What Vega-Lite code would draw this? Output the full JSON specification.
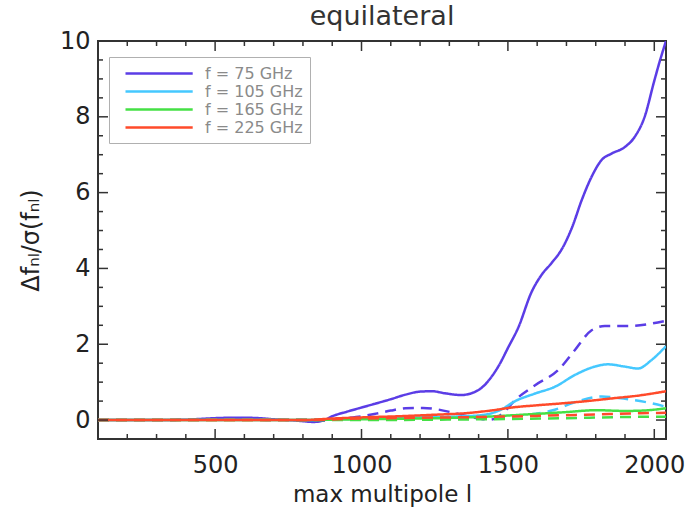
{
  "$schema": "https://vega.github.io/schema/vega-lite/v6.json",
  "autosize": {"type": "none"},
  "padding": {"left": 98, "top": 41, "right": 22, "bottom": 72},
  "width": 568,
  "height": 398,
  "background": "white",
  "title": {"text": "equilateral", "font": "DejaVu Sans", "fontSize": 27, "fontWeight": "normal", "color": "#333333", "offset": -2},
  "config": {
    "view": {"stroke": "#333333", "strokeWidth": 2},
    "axis": {"grid": false, "domain": false, "ticks": false,
      "labelFont": "DejaVu Sans", "labelFontSize": 24, "labelColor": "#222222",
      "titleFont": "DejaVu Sans", "titleFontSize": 22, "titleFontWeight": "normal", "titleColor": "#222222"},
    "legend": {"orient": "none", "legendX": 11, "legendY": 16, "fillColor": "white", "strokeColor": "#b0b0b0", "strokeWidth": 1,
      "padding": 7, "symbolType": "M0,0H8.4", "symbolSize": 256, "symbolStrokeWidth": 2.5, "labelFont": "DejaVu Sans",
      "labelFontSize": 16, "labelColor": "#8a8a8a", "labelOffset": 70, "rowPadding": -0.5, "title": null}
  },
  "datasets": {
    "xmaj": [{"t":500},{"t":1000},{"t":1500},{"t":2000}],
    "xmin": [{"t":200},{"t":300},{"t":400},{"t":600},{"t":700},{"t":800},{"t":900},{"t":1100},{"t":1200},{"t":1300},{"t":1400},{"t":1600},{"t":1700},{"t":1800},{"t":1900}],
    "ymaj": [{"t":0},{"t":2},{"t":4},{"t":6},{"t":8}],
    "ymin": [{"t":0.5},{"t":1},{"t":1.5},{"t":2.5},{"t":3},{"t":3.5},{"t":4.5},{"t":5},{"t":5.5},{"t":6.5},{"t":7},{"t":7.5},{"t":8.5},{"t":9},{"t":9.5}]
  },
  "data": {"values": [
    {"f":"f = 75 GHz","s":"solid","l":100,"v":0},{"f":"f = 75 GHz","s":"solid","l":200,"v":0},{"f":"f = 75 GHz","s":"solid","l":300,"v":0},{"f":"f = 75 GHz","s":"solid","l":400,"v":0.01},{"f":"f = 75 GHz","s":"solid","l":450,"v":0.03},{"f":"f = 75 GHz","s":"solid","l":500,"v":0.05},{"f":"f = 75 GHz","s":"solid","l":550,"v":0.06},{"f":"f = 75 GHz","s":"solid","l":600,"v":0.06},{"f":"f = 75 GHz","s":"solid","l":650,"v":0.05},{"f":"f = 75 GHz","s":"solid","l":700,"v":0.02},{"f":"f = 75 GHz","s":"solid","l":750,"v":0},{"f":"f = 75 GHz","s":"solid","l":800,"v":-0.03},{"f":"f = 75 GHz","s":"solid","l":835,"v":-0.05},{"f":"f = 75 GHz","s":"solid","l":870,"v":-0.01},{"f":"f = 75 GHz","s":"solid","l":900,"v":0.1},{"f":"f = 75 GHz","s":"solid","l":950,"v":0.22},{"f":"f = 75 GHz","s":"solid","l":1000,"v":0.33},{"f":"f = 75 GHz","s":"solid","l":1060,"v":0.46},{"f":"f = 75 GHz","s":"solid","l":1100,"v":0.55},{"f":"f = 75 GHz","s":"solid","l":1150,"v":0.67},{"f":"f = 75 GHz","s":"solid","l":1200,"v":0.75},{"f":"f = 75 GHz","s":"solid","l":1240,"v":0.76},{"f":"f = 75 GHz","s":"solid","l":1290,"v":0.7},{"f":"f = 75 GHz","s":"solid","l":1340,"v":0.66},{"f":"f = 75 GHz","s":"solid","l":1380,"v":0.72},{"f":"f = 75 GHz","s":"solid","l":1410,"v":0.85},{"f":"f = 75 GHz","s":"solid","l":1440,"v":1.1},{"f":"f = 75 GHz","s":"solid","l":1470,"v":1.45},{"f":"f = 75 GHz","s":"solid","l":1500,"v":1.9},{"f":"f = 75 GHz","s":"solid","l":1536,"v":2.45},{"f":"f = 75 GHz","s":"solid","l":1581,"v":3.38},{"f":"f = 75 GHz","s":"solid","l":1615,"v":3.83},{"f":"f = 75 GHz","s":"solid","l":1650,"v":4.15},{"f":"f = 75 GHz","s":"solid","l":1685,"v":4.52},{"f":"f = 75 GHz","s":"solid","l":1720,"v":5.1},{"f":"f = 75 GHz","s":"solid","l":1752,"v":5.8},{"f":"f = 75 GHz","s":"solid","l":1786,"v":6.42},{"f":"f = 75 GHz","s":"solid","l":1820,"v":6.86},{"f":"f = 75 GHz","s":"solid","l":1854,"v":7.03},{"f":"f = 75 GHz","s":"solid","l":1899,"v":7.2},{"f":"f = 75 GHz","s":"solid","l":1933,"v":7.47},{"f":"f = 75 GHz","s":"solid","l":1967,"v":8.0},{"f":"f = 75 GHz","s":"solid","l":2000,"v":8.95},{"f":"f = 75 GHz","s":"solid","l":2020,"v":9.5},{"f":"f = 75 GHz","s":"solid","l":2040,"v":10.0},
    {"f":"f = 75 GHz","s":"dashed","l":100,"v":0},{"f":"f = 75 GHz","s":"dashed","l":300,"v":0},{"f":"f = 75 GHz","s":"dashed","l":500,"v":0.02},{"f":"f = 75 GHz","s":"dashed","l":600,"v":0.02},{"f":"f = 75 GHz","s":"dashed","l":700,"v":0},{"f":"f = 75 GHz","s":"dashed","l":790,"v":0},{"f":"f = 75 GHz","s":"dashed","l":835,"v":-0.04},{"f":"f = 75 GHz","s":"dashed","l":880,"v":-0.01},{"f":"f = 75 GHz","s":"dashed","l":950,"v":0.05},{"f":"f = 75 GHz","s":"dashed","l":1000,"v":0.1},{"f":"f = 75 GHz","s":"dashed","l":1050,"v":0.17},{"f":"f = 75 GHz","s":"dashed","l":1100,"v":0.25},{"f":"f = 75 GHz","s":"dashed","l":1150,"v":0.31},{"f":"f = 75 GHz","s":"dashed","l":1210,"v":0.32},{"f":"f = 75 GHz","s":"dashed","l":1260,"v":0.28},{"f":"f = 75 GHz","s":"dashed","l":1320,"v":0.18},{"f":"f = 75 GHz","s":"dashed","l":1380,"v":0.07},{"f":"f = 75 GHz","s":"dashed","l":1440,"v":0.01},{"f":"f = 75 GHz","s":"dashed","l":1478,"v":0.15},{"f":"f = 75 GHz","s":"dashed","l":1525,"v":0.53},{"f":"f = 75 GHz","s":"dashed","l":1593,"v":0.92},{"f":"f = 75 GHz","s":"dashed","l":1672,"v":1.32},{"f":"f = 75 GHz","s":"dashed","l":1729,"v":1.85},{"f":"f = 75 GHz","s":"dashed","l":1786,"v":2.37},{"f":"f = 75 GHz","s":"dashed","l":1831,"v":2.48},{"f":"f = 75 GHz","s":"dashed","l":1911,"v":2.48},{"f":"f = 75 GHz","s":"dashed","l":1979,"v":2.53},{"f":"f = 75 GHz","s":"dashed","l":2040,"v":2.62},
    {"f":"f = 105 GHz","s":"solid","l":100,"v":0},{"f":"f = 105 GHz","s":"solid","l":800,"v":0},{"f":"f = 105 GHz","s":"solid","l":1000,"v":0.04},{"f":"f = 105 GHz","s":"solid","l":1200,"v":0.07},{"f":"f = 105 GHz","s":"solid","l":1350,"v":0.1},{"f":"f = 105 GHz","s":"solid","l":1420,"v":0.14},{"f":"f = 105 GHz","s":"solid","l":1473,"v":0.26},{"f":"f = 105 GHz","s":"solid","l":1525,"v":0.5},{"f":"f = 105 GHz","s":"solid","l":1593,"v":0.7},{"f":"f = 105 GHz","s":"solid","l":1661,"v":0.88},{"f":"f = 105 GHz","s":"solid","l":1729,"v":1.19},{"f":"f = 105 GHz","s":"solid","l":1797,"v":1.41},{"f":"f = 105 GHz","s":"solid","l":1842,"v":1.47},{"f":"f = 105 GHz","s":"solid","l":1899,"v":1.41},{"f":"f = 105 GHz","s":"solid","l":1945,"v":1.36},{"f":"f = 105 GHz","s":"solid","l":1990,"v":1.58},{"f":"f = 105 GHz","s":"solid","l":2040,"v":1.95},
    {"f":"f = 105 GHz","s":"dashed","l":100,"v":0},{"f":"f = 105 GHz","s":"dashed","l":1000,"v":0.02},{"f":"f = 105 GHz","s":"dashed","l":1300,"v":0.04},{"f":"f = 105 GHz","s":"dashed","l":1450,"v":0.06},{"f":"f = 105 GHz","s":"dashed","l":1550,"v":0.12},{"f":"f = 105 GHz","s":"dashed","l":1650,"v":0.25},{"f":"f = 105 GHz","s":"dashed","l":1740,"v":0.5},{"f":"f = 105 GHz","s":"dashed","l":1820,"v":0.62},{"f":"f = 105 GHz","s":"dashed","l":1877,"v":0.58},{"f":"f = 105 GHz","s":"dashed","l":1967,"v":0.48},{"f":"f = 105 GHz","s":"dashed","l":2040,"v":0.35},
    {"f":"f = 165 GHz","s":"solid","l":100,"v":0},{"f":"f = 165 GHz","s":"solid","l":800,"v":0},{"f":"f = 165 GHz","s":"solid","l":1000,"v":0.02},{"f":"f = 165 GHz","s":"solid","l":1200,"v":0.04},{"f":"f = 165 GHz","s":"solid","l":1400,"v":0.08},{"f":"f = 165 GHz","s":"solid","l":1570,"v":0.15},{"f":"f = 165 GHz","s":"solid","l":1700,"v":0.21},{"f":"f = 165 GHz","s":"solid","l":1800,"v":0.26},{"f":"f = 165 GHz","s":"solid","l":1900,"v":0.24},{"f":"f = 165 GHz","s":"solid","l":1960,"v":0.25},{"f":"f = 165 GHz","s":"solid","l":2040,"v":0.31},
    {"f":"f = 165 GHz","s":"dashed","l":100,"v":0},{"f":"f = 165 GHz","s":"dashed","l":1000,"v":0},{"f":"f = 165 GHz","s":"dashed","l":1400,"v":0.02},{"f":"f = 165 GHz","s":"dashed","l":1700,"v":0.05},{"f":"f = 165 GHz","s":"dashed","l":1900,"v":0.08},{"f":"f = 165 GHz","s":"dashed","l":2040,"v":0.09},
    {"f":"f = 225 GHz","s":"solid","l":100,"v":0},{"f":"f = 225 GHz","s":"solid","l":800,"v":0},{"f":"f = 225 GHz","s":"solid","l":900,"v":0.04},{"f":"f = 225 GHz","s":"solid","l":1000,"v":0.07},{"f":"f = 225 GHz","s":"solid","l":1127,"v":0.1},{"f":"f = 225 GHz","s":"solid","l":1250,"v":0.14},{"f":"f = 225 GHz","s":"solid","l":1354,"v":0.18},{"f":"f = 225 GHz","s":"solid","l":1450,"v":0.26},{"f":"f = 225 GHz","s":"solid","l":1513,"v":0.33},{"f":"f = 225 GHz","s":"solid","l":1600,"v":0.39},{"f":"f = 225 GHz","s":"solid","l":1684,"v":0.44},{"f":"f = 225 GHz","s":"solid","l":1770,"v":0.5},{"f":"f = 225 GHz","s":"solid","l":1854,"v":0.57},{"f":"f = 225 GHz","s":"solid","l":1950,"v":0.65},{"f":"f = 225 GHz","s":"solid","l":2040,"v":0.76},
    {"f":"f = 225 GHz","s":"dashed","l":100,"v":0},{"f":"f = 225 GHz","s":"dashed","l":800,"v":0},{"f":"f = 225 GHz","s":"dashed","l":1000,"v":0.04},{"f":"f = 225 GHz","s":"dashed","l":1200,"v":0.06},{"f":"f = 225 GHz","s":"dashed","l":1400,"v":0.08},{"f":"f = 225 GHz","s":"dashed","l":1600,"v":0.11},{"f":"f = 225 GHz","s":"dashed","l":1800,"v":0.15},{"f":"f = 225 GHz","s":"dashed","l":1950,"v":0.18},{"f":"f = 225 GHz","s":"dashed","l":2040,"v":0.19}
  ]},
  "layer": [
    {
      "mark": {"type": "line", "interpolate": "monotone", "strokeWidth": 2.5, "clip": true},
      "encoding": {
        "x": {"field": "l", "type": "quantitative", "scale": {"domain": [100, 2040], "nice": false, "zero": false},
          "title": "max multipole l",
          "axis": {"orient": "bottom", "values": [500, 1000, 1500, 2000], "format": "d",
            "labelPadding": 14, "labelFlush": false, "titlePadding": 6, "titleFontSize": 23}},
        "y": {"field": "v", "type": "quantitative", "scale": {"domain": [-0.5, 10], "nice": false, "zero": false},
          "title": "Δfₙₗ/σ(fₙₗ)",
          "axis": {"orient": "left", "values": [0, 2, 4, 6, 8, 10], "format": "d",
            "labelPadding": 8, "labelFlush": false, "titlePadding": 16, "titleFontSize": 24}},
        "color": {"field": "f", "type": "nominal",
          "scale": {"domain": ["f = 75 GHz", "f = 105 GHz", "f = 165 GHz", "f = 225 GHz"], "range": ["#5b3de6", "#45c8ff", "#45e045", "#ff4a2a"]}},
        "strokeDash": {"field": "s", "type": "nominal", "scale": {"domain": ["solid", "dashed"], "range": [[1, 0], [11, 7]]}, "legend": null}
      }
    },
    {
      "data": {"name": "xmaj"},
      "mark": {"type": "tick", "orient": "vertical", "size": 10, "thickness": 1.5, "color": "#333333", "opacity": 1, "yOffset": -5},
      "encoding": {"x": {"field": "t", "type": "quantitative", "title": "max multipole l"}, "y": {"datum": -0.5, "type": "quantitative", "title": "Δfₙₗ/σ(fₙₗ)"}}
    },
    {
      "data": {"name": "xmin"},
      "mark": {"type": "tick", "orient": "vertical", "size": 5, "thickness": 1.5, "color": "#333333", "opacity": 1, "yOffset": -2.5},
      "encoding": {"x": {"field": "t", "type": "quantitative", "title": "max multipole l"}, "y": {"datum": -0.5, "type": "quantitative", "title": "Δfₙₗ/σ(fₙₗ)"}}
    },
    {
      "data": {"name": "xmaj"},
      "mark": {"type": "tick", "orient": "vertical", "size": 10, "thickness": 1.5, "color": "#333333", "opacity": 1, "yOffset": 5},
      "encoding": {"x": {"field": "t", "type": "quantitative", "title": "max multipole l"}, "y": {"datum": 10, "type": "quantitative", "title": "Δfₙₗ/σ(fₙₗ)"}}
    },
    {
      "data": {"name": "xmin"},
      "mark": {"type": "tick", "orient": "vertical", "size": 5, "thickness": 1.5, "color": "#333333", "opacity": 1, "yOffset": 2.5},
      "encoding": {"x": {"field": "t", "type": "quantitative", "title": "max multipole l"}, "y": {"datum": 10, "type": "quantitative", "title": "Δfₙₗ/σ(fₙₗ)"}}
    },
    {
      "data": {"name": "ymaj"},
      "mark": {"type": "tick", "orient": "horizontal", "size": 10, "thickness": 1.5, "color": "#333333", "opacity": 1, "xOffset": 5},
      "encoding": {"y": {"field": "t", "type": "quantitative", "title": "Δfₙₗ/σ(fₙₗ)"}, "x": {"datum": 100, "type": "quantitative", "title": "max multipole l"}}
    },
    {
      "data": {"name": "ymin"},
      "mark": {"type": "tick", "orient": "horizontal", "size": 5, "thickness": 1.5, "color": "#333333", "opacity": 1, "xOffset": 2.5},
      "encoding": {"y": {"field": "t", "type": "quantitative", "title": "Δfₙₗ/σ(fₙₗ)"}, "x": {"datum": 100, "type": "quantitative", "title": "max multipole l"}}
    },
    {
      "data": {"name": "ymaj"},
      "mark": {"type": "tick", "orient": "horizontal", "size": 10, "thickness": 1.5, "color": "#333333", "opacity": 1, "xOffset": -5},
      "encoding": {"y": {"field": "t", "type": "quantitative", "title": "Δfₙₗ/σ(fₙₗ)"}, "x": {"datum": 2040, "type": "quantitative", "title": "max multipole l"}}
    },
    {
      "data": {"name": "ymin"},
      "mark": {"type": "tick", "orient": "horizontal", "size": 5, "thickness": 1.5, "color": "#333333", "opacity": 1, "xOffset": -2.5},
      "encoding": {"y": {"field": "t", "type": "quantitative", "title": "Δfₙₗ/σ(fₙₗ)"}, "x": {"datum": 2040, "type": "quantitative", "title": "max multipole l"}}
    }
  ]
}
